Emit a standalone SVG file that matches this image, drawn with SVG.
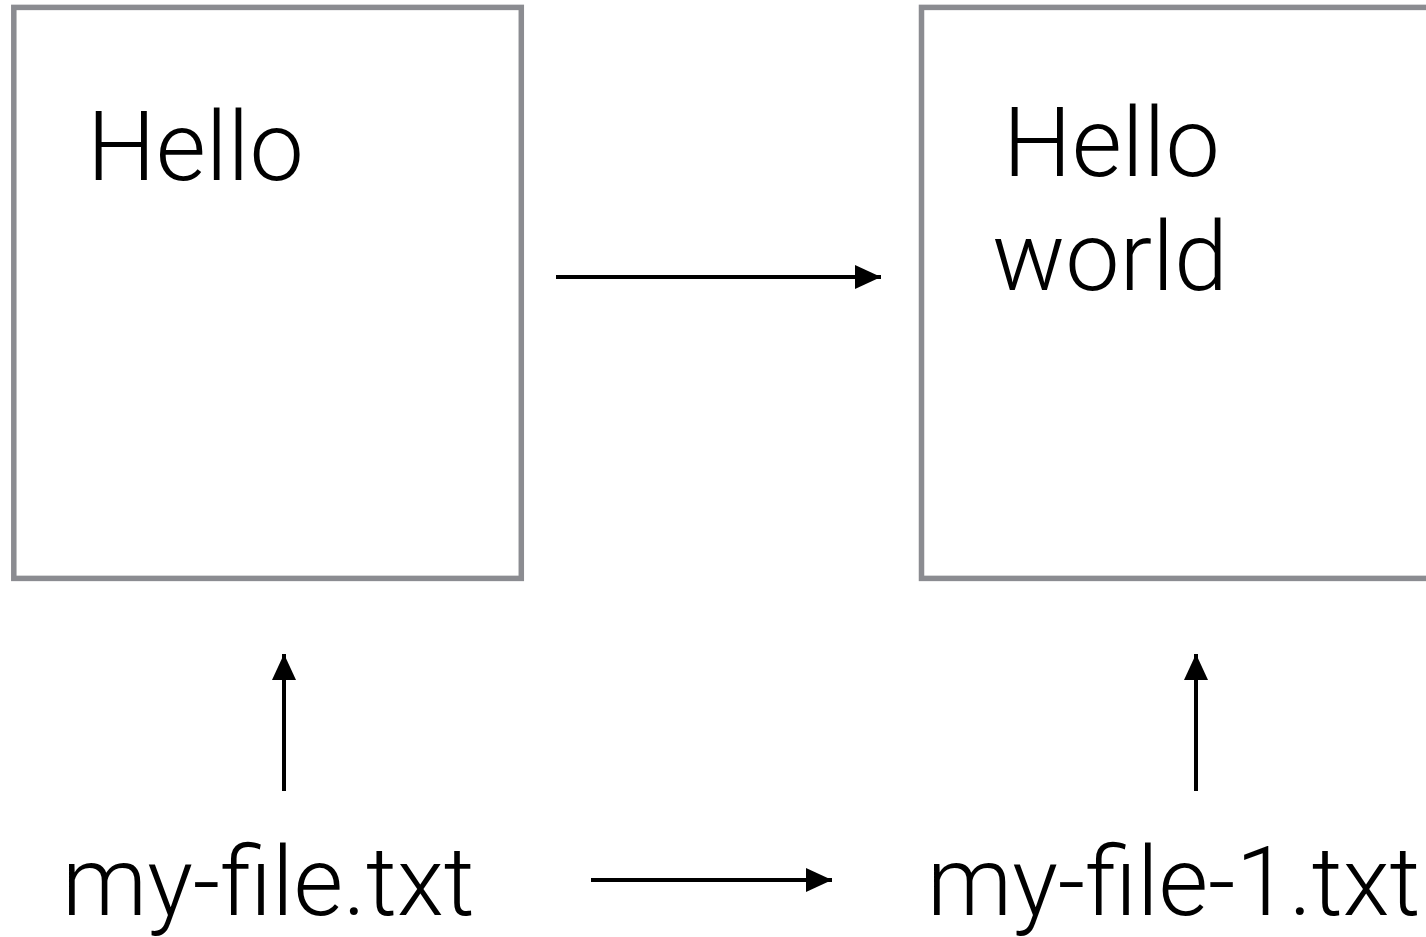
<svg xmlns="http://www.w3.org/2000/svg" width="1426" height="937" viewBox="0 0 1426 937">
<style>
.box{fill:#ffffff;stroke:#8b8c91;stroke-width:5.5}
.t{font-family:Roboto,"Liberation Sans",sans-serif;font-weight:300;font-size:97px;fill:#000}
.f{font-size:96px}
.c{stroke:#000;stroke-width:4;fill:none}
</style>
<defs>
<marker id="ah" markerUnits="userSpaceOnUse" markerWidth="26" markerHeight="24" refX="26" refY="12" orient="auto">
<path d="M0,0 L26,12 L0,24 Z" fill="#000"/>
</marker>
</defs>
<rect width="1426" height="937" fill="#ffffff"/>
<g id="box-before">
<rect class="box" x="13.8" y="7.4" width="507.5" height="571"/>
<text class="t" x="87" y="180">Hello</text>
</g>
<g id="box-after">
<rect class="box" x="921.5" y="7.4" width="507.5" height="571"/>
<text class="t" x="1003" y="176">Hello</text>
<text class="t" x="992" y="290">world</text>
</g>
<g id="file-before">
<text class="t f" x="62" y="915">my-file.txt</text>
</g>
<g id="file-after">
<text class="t f" x="927" y="915">my-file-1.txt</text>
</g>
<g id="connectors">
<line class="c" x1="556" y1="277" x2="881" y2="277" marker-end="url(#ah)"/>
<line class="c" x1="591" y1="880" x2="832" y2="880" marker-end="url(#ah)"/>
<line class="c" x1="284" y1="791" x2="284" y2="654" marker-end="url(#ah)"/>
<line class="c" x1="1196" y1="791" x2="1196" y2="654" marker-end="url(#ah)"/>
</g>
</svg>
